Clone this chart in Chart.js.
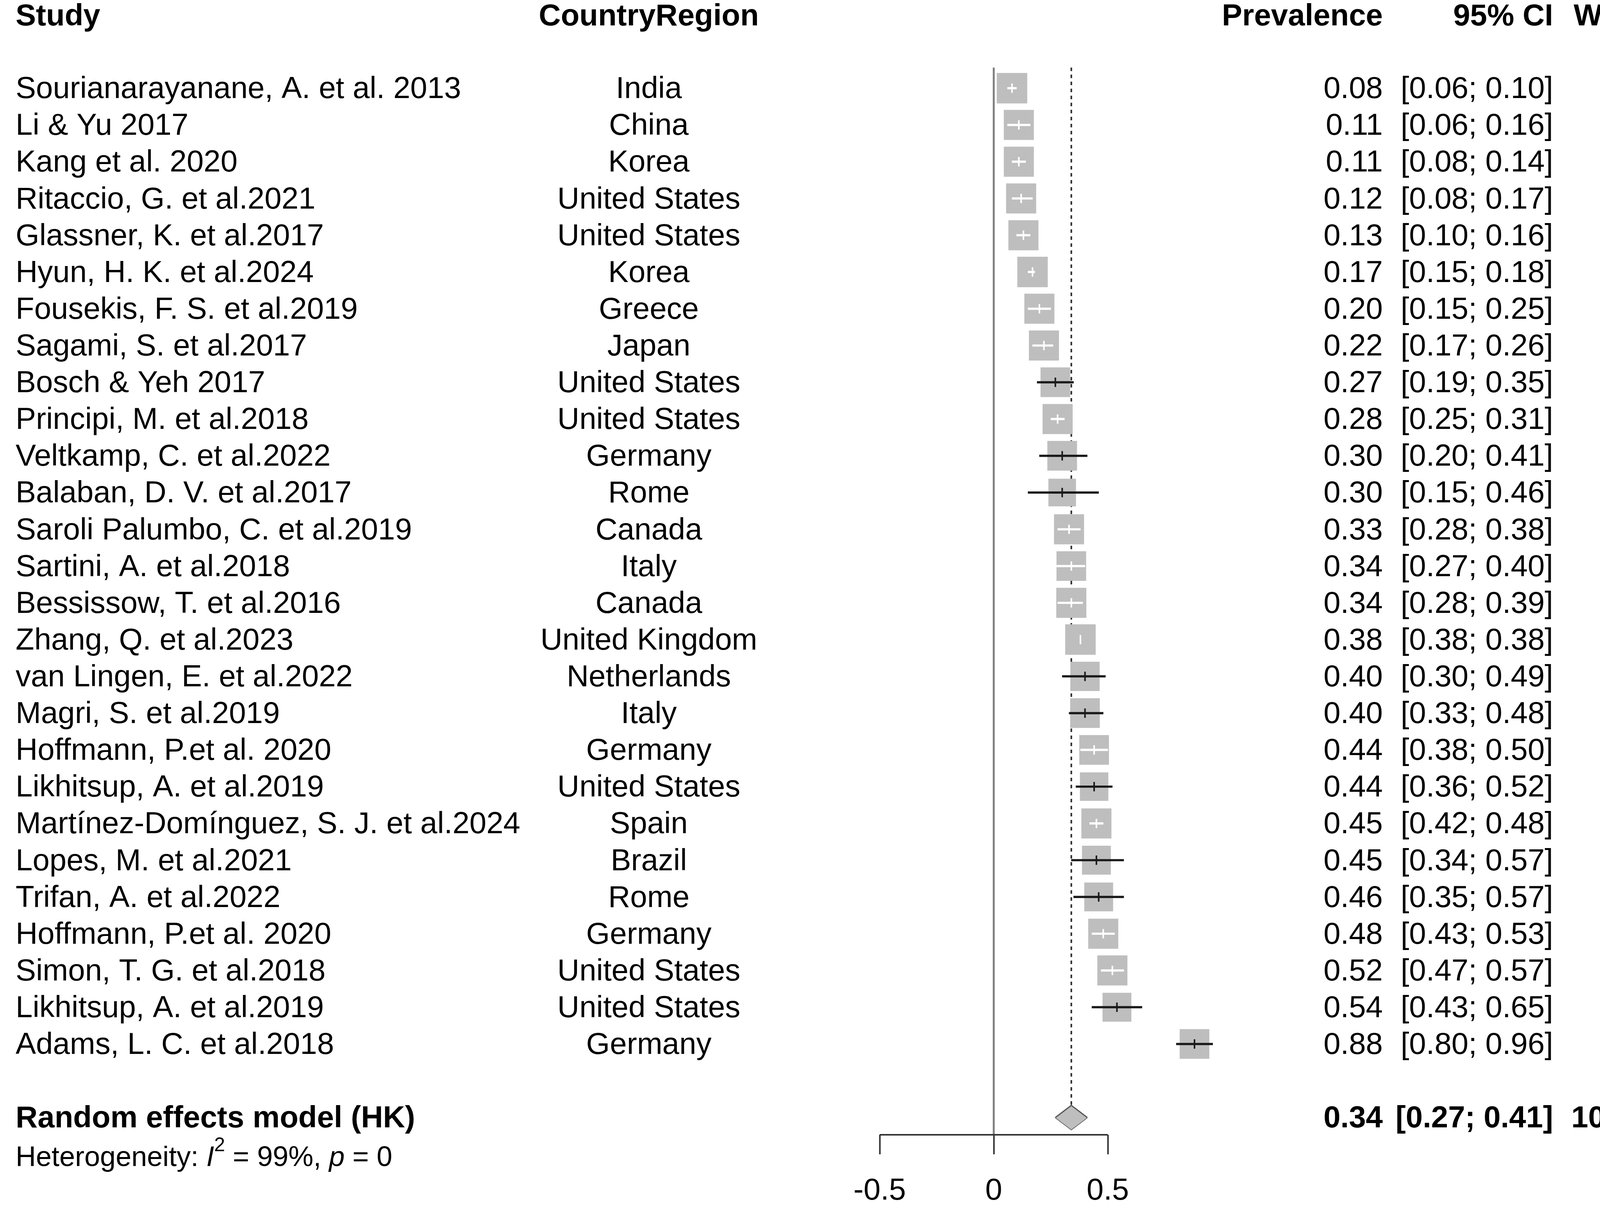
<!DOCTYPE html>
<html>
<head>
<meta charset="utf-8">
<script src="https://cdn.jsdelivr.net/npm/chart.js@4.4.1/dist/chart.umd.min.js"></script>
<style>
html,body{margin:0;padding:0;background:#ffffff;overflow:hidden;}
canvas{display:block;width:100vw;height:100vh;}
</style>
</head>
<body>
<canvas id="c" width="4330" height="3095"></canvas>
<script>
// ---------------- DATA ----------------
const studies = [
  "Sourianarayanane, A. et al. 2013", "Li & Yu 2017", "Kang et al. 2020",
  "Ritaccio, G. et al.2021", "Glassner, K. et al.2017", "Hyun, H. K. et al.2024",
  "Fousekis, F. S. et al.2019", "Sagami, S. et al.2017", "Bosch & Yeh 2017",
  "Principi, M. et al.2018", "Veltkamp, C. et al.2022", "Balaban, D. V. et al.2017",
  "Saroli Palumbo, C. et al.2019", "Sartini, A. et al.2018", "Bessissow, T. et al.2016",
  "Zhang, Q. et al.2023", "van Lingen, E. et al.2022", "Magri, S. et al.2019",
  "Hoffmann, P.et al. 2020", "Likhitsup, A. et al.2019", "Martínez-Domínguez, S. J. et al.2024",
  "Lopes, M. et al.2021", "Trifan, A. et al.2022", "Hoffmann, P.et al. 2020",
  "Simon, T. G. et al.2018", "Likhitsup, A. et al.2019", "Adams, L. C. et al.2018"
];
const countries = [
  "India", "China", "Korea", "United States", "United States", "Korea", "Greece", "Japan",
  "United States", "United States", "Germany", "Rome", "Canada", "Italy", "Canada",
  "United Kingdom", "Netherlands", "Italy", "Germany", "United States", "Spain", "Brazil",
  "Rome", "Germany", "United States", "United States", "Germany"
];
const prevalence = [0.08,0.11,0.11,0.12,0.13,0.17,0.20,0.22,0.27,0.28,0.30,0.30,0.33,0.34,0.34,0.38,0.40,0.40,0.44,0.44,0.45,0.45,0.46,0.48,0.52,0.54,0.88];
const ciLower    = [0.06,0.06,0.08,0.08,0.10,0.15,0.15,0.17,0.19,0.25,0.20,0.15,0.28,0.27,0.28,0.38,0.30,0.33,0.38,0.36,0.42,0.34,0.35,0.43,0.47,0.43,0.80];
const ciUpper    = [0.10,0.16,0.14,0.17,0.16,0.18,0.25,0.26,0.35,0.31,0.41,0.46,0.38,0.40,0.39,0.38,0.49,0.48,0.50,0.52,0.48,0.57,0.57,0.53,0.57,0.65,0.96];
const weights    = [3.9,3.8,3.8,3.8,3.8,3.9,3.8,3.8,3.7,3.8,3.7,3.2,3.8,3.7,3.8,3.9,3.6,3.7,3.7,3.4,3.8,3.5,3.5,3.8,3.8,3.5,3.7];
const pooledLabel = "Random effects model (HK)";
const pooledEst = 0.34;
const pooledLower = 0.27;
const pooledUpper = 0.41;
const pooledWeight = 100.0;
const hetI2 = "99%";
const hetP = "0";
const headers = ["Study", "CountryRegion", "Prevalence", "95% CI", "Weight"];
const xTicks = [-0.5, 0, 0.5];

// ---------------- LAYOUT ----------------
const FONT = "'Liberation Sans', Arial, Helvetica, sans-serif";
const CW = 4330, CH = 3095;
const X0PX = 2544, UNIT = 584;           // pixel of x=0 and pixels per unit
const xMin = -0.5, xMax = 1.0;
const chartLeft = X0PX + xMin * UNIT;
const chartRight = X0PX + xMax * UNIT;
const chartTop = 173, chartBottom = 2905;
const yMin = -0.56, yMax = 28.47;
const POOLED_ROW = 28, HET_ROW = 29.07, HEADER_ROW = -1.98;
const COL = { study: 40, country: 1661, prev: 3540, ci: 3976, weight: 4287 };
const FS = 78, FS_HET = 72;
const SQUARE_BASE = 77;
const sqSide = w => SQUARE_BASE * Math.sqrt(w / 3.8);
const DIAMOND_H = 0.33;

function ciInside(chart, i) {
  const xs = chart.scales.x;
  const c = xs.getPixelForValue(prevalence[i]);
  const half = sqSide(weights[i]) / 2 + 5;
  return xs.getPixelForValue(ciLower[i]) >= c - half && xs.getPixelForValue(ciUpper[i]) <= c + half;
}
function ciColor(ctx) {
  if (ctx.dataIndex === undefined) return '#000';
  return ciInside(ctx.chart, ctx.dataIndex) ? '#ffffff' : '#1a1a1a';
}

Chart.defaults.font.family = FONT;
Chart.defaults.color = '#000';

const textPlugin = {
  id: 'forestText',
  afterDraw(chart) {
    const ctx = chart.ctx;
    const ys = chart.scales.y;
    ctx.save();
    ctx.fillStyle = '#000';
    ctx.textBaseline = 'middle';
    const put = (t, x, y, align, weight, size, style) => {
      ctx.font = (style || 'normal') + ' ' + (weight || 'normal') + ' ' + (size || FS) + 'px ' + FONT;
      ctx.textAlign = align;
      ctx.fillText(t, x, y);
    };
    const dy = 4;
    // header
    const yh = ys.getPixelForValue(HEADER_ROW) + dy;
    put(headers[0], COL.study, yh, 'left', 'bold');
    put(headers[1], COL.country, yh, 'center', 'bold');
    put(headers[2], COL.prev, yh, 'right', 'bold');
    put(headers[3], COL.ci, yh, 'right', 'bold');
    put(headers[4], COL.weight, yh, 'right', 'bold');
    // rows
    for (let i = 0; i < studies.length; i++) {
      const y = ys.getPixelForValue(i) + dy;
      put(studies[i], COL.study, y, 'left');
      put(countries[i], COL.country, y, 'center');
      put(prevalence[i].toFixed(2), COL.prev, y, 'right');
      put('[' + ciLower[i].toFixed(2) + '; ' + ciUpper[i].toFixed(2) + ']', COL.ci, y, 'right');
      put(weights[i].toFixed(1) + '%', COL.weight, y, 'right');
    }
    // pooled
    const yp = ys.getPixelForValue(POOLED_ROW) + dy;
    put(pooledLabel, COL.study, yp, 'left', 'bold');
    put(pooledEst.toFixed(2), COL.prev, yp, 'right', 'bold');
    put('[' + pooledLower.toFixed(2) + '; ' + pooledUpper.toFixed(2) + ']', COL.ci, yp, 'right', 'bold');
    put(pooledWeight.toFixed(1) + '%', COL.weight, yp, 'right', 'bold');
    // heterogeneity
    const yhet = ys.getPixelForValue(HET_ROW) + dy;
    let x = COL.study;
    const seg = (t, style, size, yoff) => {
      ctx.font = (style || 'normal') + ' normal ' + (size || FS_HET) + 'px ' + FONT;
      ctx.textAlign = 'left';
      ctx.fillText(t, x, yhet + (yoff || 0));
      x += ctx.measureText(t).width;
    };
    seg('Heterogeneity: ');
    seg('I', 'italic');
    seg('2', 'normal', 50, -32);
    seg(' = ' + hetI2 + ', ');
    seg('p', 'italic');
    seg(' = ' + hetP);
    ctx.restore();
  }
};

const rows = studies.map((_, i) => i);

new Chart(document.getElementById('c'), {
  type: 'scatter',
  data: {
    datasets: [
      { // reference line at 0
        type: 'line', order: 10,
        data: [{x: 0, y: yMin}, {x: 0, y: yMax}],
        borderColor: '#808080', borderWidth: 5, pointRadius: 0, clip: false
      },
      { // pooled estimate dashed line
        type: 'line', order: 9,
        data: [{x: pooledEst, y: yMin}, {x: pooledEst, y: POOLED_ROW - DIAMOND_H}],
        borderColor: '#2a2a2a', borderWidth: 4, borderDash: [9, 9], pointRadius: 0, clip: false
      },
      { // axis line (only -0.5..0.5)
        type: 'line', order: 9,
        data: [{x: xTicks[0], y: yMax}, {x: xTicks[xTicks.length - 1], y: yMax}],
        borderColor: '#333333', borderWidth: 4, pointRadius: 0, clip: false
      },
      { // squares
        type: 'scatter', order: 3,
        data: rows.map(i => ({x: prevalence[i], y: i})),
        pointStyle: 'rect',
        pointRadius: ctx => sqSide(weights[ctx.dataIndex]) / 2 / Math.SQRT1_2,
        backgroundColor: '#bebebe', borderWidth: 0, clip: false
      },
      { // confidence intervals
        type: 'bar', order: 2, indexAxis: 'y',
        data: rows.map(i => ({x: [ciLower[i], ciUpper[i]], y: i})),
        barThickness: 5, backgroundColor: ciColor, borderWidth: 0, clip: false
      },
      { // estimate ticks
        type: 'scatter', order: 1,
        data: rows.map(i => ({x: prevalence[i], y: i})),
        pointStyle: 'line', rotation: 90, pointRadius: 12,
        borderWidth: 4, borderColor: ciColor, clip: false
      },
      { // diamond upper half
        type: 'line', order: 0,
        data: [{x: pooledLower, y: POOLED_ROW}, {x: pooledEst, y: POOLED_ROW - DIAMOND_H}, {x: pooledUpper, y: POOLED_ROW}],
        borderColor: '#555555', borderWidth: 3, pointRadius: 0, fill: '+1',
        backgroundColor: '#bebebe', tension: 0, clip: false
      },
      { // diamond lower half
        type: 'line', order: 0,
        data: [{x: pooledLower, y: POOLED_ROW}, {x: pooledEst, y: POOLED_ROW + DIAMOND_H}, {x: pooledUpper, y: POOLED_ROW}],
        borderColor: '#555555', borderWidth: 3, pointRadius: 0, fill: false, tension: 0, clip: false
      }
    ]
  },
  options: {
    responsive: false,
    devicePixelRatio: 1,
    animation: false,
    events: [],
    layout: { padding: { left: chartLeft, right: CW - chartRight, top: chartTop, bottom: 0 } },
    plugins: { legend: { display: false }, tooltip: { enabled: false }, filler: { propagate: false } },
    scales: {
      x: {
        type: 'linear', min: xMin, max: xMax, position: 'bottom', offset: false,
        afterBuildTicks: (scale) => { scale.ticks = xTicks.map(v => ({value: v})); },
        afterFit: (scale) => { scale.height = CH - chartBottom; },
        border: { display: false },
        grid: { offset: false, drawOnChartArea: false, drawTicks: true, tickLength: 50, tickWidth: 4, tickColor: '#333333' },
        ticks: {
          padding: 48, maxRotation: 0, autoSkip: false, color: '#000',
          font: { size: FS, family: FONT },
          callback: v => String(v)
        }
      },
      y: { type: 'linear', min: yMin, max: yMax, reverse: true, display: false, offset: false, grid: { offset: false } }
    }
  },
  plugins: [textPlugin]
});
</script>
</body>
</html>
